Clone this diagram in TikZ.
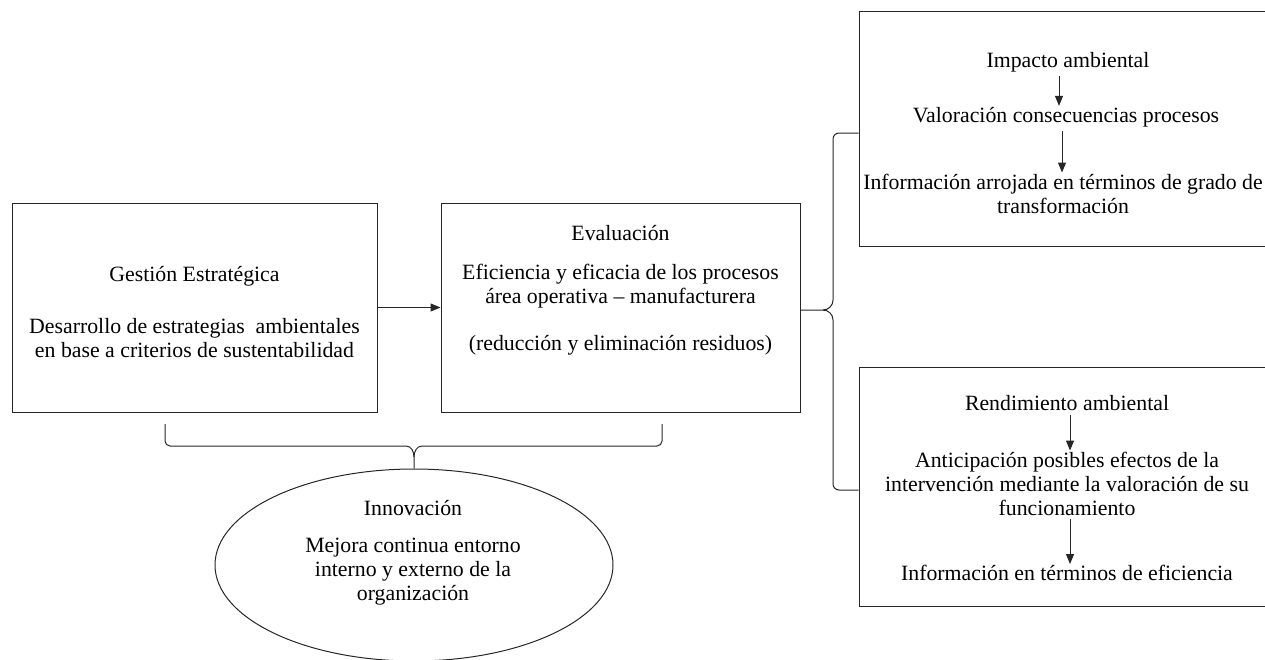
\documentclass[tikz,border=0pt]{standalone}
\usepackage{fontspec}
\setmainfont{Liberation Serif}
\usetikzlibrary{shapes.geometric,arrows.meta}
\begin{document}
\begin{tikzpicture}[x=1pt,y=-1pt,
  line/.style={draw=black!85,line width=1pt},
  boxnode/.style={line,rectangle,inner sep=0},
  txt/.style={font=\rmfamily\fontsize{21.8}{24}\selectfont,inner sep=0,align=center,anchor=center},
  arr/.style={line,-{Triangle[length=10pt,width=8pt]}}]
\useasboundingbox (0,0) rectangle (1265,659);
% boxes
\node[boxnode,minimum width=365,minimum height=209] (gest) at (194.5,307.5) {};
\node[boxnode,minimum width=359,minimum height=209] (eval) at (620.5,307.5) {};
\node[boxnode,minimum width=407,minimum height=235] (ubox) at (1062.5,128.5) {};
\node[boxnode,minimum width=407,minimum height=239] (lbox) at (1062.5,486.5) {};
\node[line,ellipse,inner sep=0,minimum width=398,minimum height=192] (inn) at (414,565) {};
% texts
\node[txt] (g1) at (194.5,276) {Gestión Estratégica};
\node[txt] (g2) at (194.5,338) {Desarrollo de estrategias\ \ ambientales\\en base a criterios de sustentabilidad};
\node[txt] (e1) at (620.5,233) {Evaluación};
\node[txt] (e2) at (620.5,286.5) {Eficiencia y eficacia de los procesos\\área operativa – manufacturera};
\node[txt] (e3) at (620.5,345) {(reducción y eliminación residuos)};
\node[txt] (u1) at (1068,62) {Impacto ambiental};
\node[txt] (u2) at (1066,117) {Valoración consecuencias procesos};
\node[txt] (u3) at (1063,193.5) {Información arrojada en términos de grado de\\transformación};
\node[txt] (l1) at (1067,403) {Rendimiento ambiental};
\node[txt] (l2) at (1067,483.5) {Anticipación posibles efectos de la\\intervención mediante la valoración de su\\funcionamiento};
\node[txt] (l3) at (1067,573) {Información en términos de eficiencia};
\node[txt] (i1) at (413,508) {Innovación};
\node[txt] (i2) at (413,572) {Mejora continua entorno\\interno y externo de la\\organización};
% arrows
\draw[arr] (gest.east) -- (eval.west);
\draw[arr,shorten <=4pt,shorten >=1pt] ([xshift=-9pt]u1.south) -- ([xshift=-9pt]u1.south |- u2.north);
\draw[arr,shorten <=4pt,shorten >=1pt] ([xshift=-4pt]u2.south) -- ([xshift=-4pt]u2.south |- u3.north);
\draw[arr,shorten <=4pt,shorten >=1pt] ([xshift=3pt]l1.south) -- ([xshift=3pt]l1.south |- l2.north);
\draw[arr,shorten <=4pt,shorten >=1pt] ([xshift=3pt]l2.south) -- ([xshift=3pt]l2.south |- l3.north);
% bottom brace
\coordinate (bl) at (165,424);
\coordinate (br) at (662,424);
\draw[line] (bl) -- (165,441) to[out=-90,in=180] (170,446) -- (406,446) to[out=0,in=90] (414,457) -- (inn.north);
\draw[line] (br) -- (662,441) to[out=-90,in=0] (657,446) -- (422,446) to[out=180,in=90] (414,457);
% right brace
\draw[line] (ubox.west |- 0,133) -- (839,133) to[out=180,in=90] (833,139) -- (833,300) to[out=-90,in=0] (823,310) -- (eval.east |- 0,310);
\draw[line] (lbox.west |- 0,490) -- (839,490) to[out=180,in=-90] (833,484) -- (833,320) to[out=90,in=0] (823,310);
\end{tikzpicture}
\end{document}
